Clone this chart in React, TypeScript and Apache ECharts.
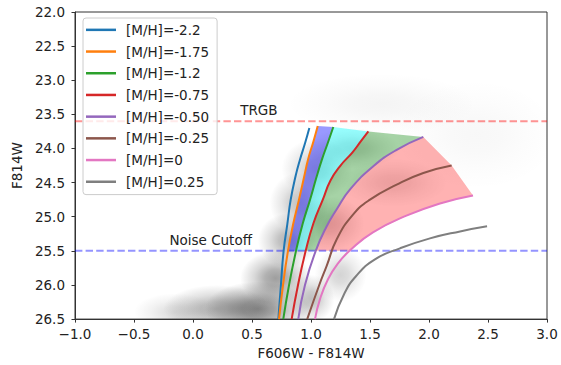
import React, { useEffect, useRef } from 'react';
import * as echarts from 'echarts';

// ---- Isochrones (F606W-F814W colour, F814W magnitude) ----
const seriesNames = ['[M/H]=-2.2', '[M/H]=-1.75', '[M/H]=-1.2', '[M/H]=-0.75', '[M/H]=-0.50', '[M/H]=-0.25', '[M/H]=0', '[M/H]=0.25'];
const lineColors = ['#1f77b4', '#ff7f0e', '#2ca02c', '#d62728', '#9467bd', '#8c564b', '#e377c2', '#7f7f7f'];

const isoM22Color = [0.723, 0.745, 0.768, 0.8, 0.828, 0.87, 0.907, 0.95, 0.986];
const isoM22Mag = [26.5, 26.0, 25.5, 25.1, 24.75, 24.4, 24.16, 23.92, 23.7];

const isoM175Color = [0.729, 0.763, 0.805, 0.85, 0.898, 0.94, 0.975, 1.02, 1.057];
const isoM175Mag = [26.5, 26.0, 25.5, 25.1, 24.75, 24.43, 24.16, 23.9, 23.67];

const isoM12Color = [0.765, 0.814, 0.873, 0.93, 0.992, 1.045, 1.093, 1.14, 1.189];
const isoM12Mag = [26.5, 26.0, 25.5, 25.1, 24.75, 24.43, 24.16, 23.93, 23.685];

const isoM075Color = [0.836, 0.89, 0.955, 1.02, 1.1, 1.165, 1.25, 1.35, 1.42, 1.486];
const isoM075Mag = [26.5, 26.0, 25.5, 25.1, 24.75, 24.47, 24.25, 24.06, 23.9, 23.75];

const isoM050Color = [0.892, 0.949, 1.04, 1.13, 1.218, 1.331, 1.528, 1.726, 1.952];
const isoM050Mag = [26.5, 26.0, 25.5, 25.15, 24.89, 24.6, 24.26, 24.02, 23.83];

const isoM025Color = [0.968, 1.07, 1.133, 1.218, 1.356, 1.5, 1.726, 1.952, 2.192];
const isoM025Mag = [26.5, 26.0, 25.72, 25.33, 24.97, 24.75, 24.53, 24.36, 24.25];

const isoP000Color = [1.034, 1.076, 1.144, 1.229, 1.331, 1.525, 1.814, 2.093, 2.373];
const isoP000Mag = [26.5, 26.208, 25.916, 25.682, 25.492, 25.229, 24.981, 24.805, 24.688];

const isoP025Color = [1.195, 1.28, 1.381, 1.542, 1.754, 2.008, 2.263, 2.492];
const isoP025Mag = [26.5, 26.135, 25.872, 25.624, 25.463, 25.317, 25.215, 25.141];

const isoColors = [isoM22Color, isoM175Color, isoM12Color, isoM075Color, isoM050Color, isoM025Color, isoP000Color, isoP025Color];
const isoMags = [isoM22Mag, isoM175Mag, isoM12Mag, isoM075Mag, isoM050Mag, isoM025Mag, isoP000Mag, isoP025Mag];

// ---- Shaded bands between isochrones (left index, right index, middle index or -1, colour) ----
const bandLeft = [1, 2, 3, 4];
const bandRight = [2, 3, 4, 6];
const bandMiddle = [-1, -1, -1, 5];
const bandFill = ['rgba(0,0,255,0.4)', 'rgba(0,255,255,0.4)', 'rgba(0,128,0,0.35)', 'rgba(255,0,0,0.3)'];

// ---- Reference lines ----
const trgbMag = 23.6;
const noiseCutoffMag = 25.5;

// ---- Annotations ----
const noteText = ['TRGB', 'Noise Cutoff'];
const noteX = [0.4, -0.2];
const noteY = [23.5, 25.4];

// ---- Star-density haze (centre colour, centre mag, half-width, half-height, peak opacity) ----
const hazeX = [0.55, 0.7, 0.2, -0.15, 0.8, 0.9, 1.05, 1.35, 1.15, 1.25, 1.7, 1.6, 2.4, 1.0];
const hazeY = [26.35, 25.9, 26.35, 26.4, 25.35, 24.8, 24.3, 24.0, 25.1, 25.85, 24.5, 23.35, 23.8, 26.2];
const hazeRx = [0.45, 0.3, 0.45, 0.35, 0.25, 0.25, 0.3, 0.4, 0.3, 0.22, 0.45, 0.8, 0.7, 0.2];
const hazeRy = [0.4, 0.4, 0.35, 0.28, 0.4, 0.45, 0.45, 0.3, 0.4, 0.4, 0.35, 0.45, 0.8, 0.35];
const hazeAlpha = [0.55, 0.45, 0.35, 0.15, 0.35, 0.28, 0.25, 0.2, 0.22, 0.2, 0.13, 0.05, 0.035, 0.3];

// ---- Axis ticks ----
const xMin = -1, xMax = 3, xStep = 0.5;
const yMin = 22, yMax = 26.5, yStep = 0.5;

const FONT = 'DejaVu Sans';

function abovePart(cs: number[], ms: number[], cut: number): number[][] {
  const pts: number[][] = [];
  for (let i = 0; i < ms.length; i++) {
    if (ms[i] < cut) {
      if (pts.length === 0 && i > 0) {
        const t = (ms[i - 1] - cut) / (ms[i - 1] - ms[i]);
        pts.push([cs[i - 1] + t * (cs[i] - cs[i - 1]), cut]);
      }
      pts.push([cs[i], ms[i]]);
    } else if (ms[i] === cut) {
      pts.push([cs[i], ms[i]]);
    }
  }
  return pts;
}

function buildBands(): number[][][] {
  const polys: number[][][] = [];
  for (let b = 0; b < bandLeft.length; b++) {
    const L = abovePart(isoColors[bandLeft[b]], isoMags[bandLeft[b]], noiseCutoffMag);
    const R = abovePart(isoColors[bandRight[b]], isoMags[bandRight[b]], noiseCutoffMag).reverse();
    const mid: number[][] = [];
    if (bandMiddle[b] >= 0) {
      const c = isoColors[bandMiddle[b]], m = isoMags[bandMiddle[b]];
      mid.push([c[c.length - 1], m[m.length - 1]]);
    }
    polys.push(L.concat(mid, R));
  }
  return polys;
}

export default function App() {
  const ref = useRef<HTMLDivElement>(null);

  useEffect(() => {
    document.body.style.margin = '0';
    if (!ref.current) return;
    const chart = echarts.init(ref.current, undefined, { renderer: 'svg' });
    const bands = buildBands();

    const fmt = (v: number) => (v < 0 ? '\u2212' : '') + Math.abs(v).toFixed(1);

    const series: any[] = [];

    series.push({
      type: 'custom',
      name: 'haze',
      clip: true,
      silent: true,
      z: 1,
      data: hazeX.map((x, i) => [x, hazeY[i], i]),
      renderItem: (params: any, api: any) => {
        const i = api.value(2);
        const c = api.coord([hazeX[i], hazeY[i]]);
        const sx = Math.abs(api.size([hazeRx[i], 0])[0]);
        const sy = Math.abs(api.size([0, hazeRy[i]])[1]);
        const a = hazeAlpha[i];
        return {
          type: 'circle',
          x: c[0],
          y: c[1],
          scaleX: sx / 50,
          scaleY: sy / 50,
          shape: { cx: 0, cy: 0, r: 50 },
          style: {
            fill: {
              type: 'radial', x: 0.5, y: 0.5, r: 0.5,
              colorStops: [
                { offset: 0, color: `rgba(40,40,40,${a})` },
                { offset: 0.3, color: `rgba(40,40,40,${a * 0.8})` },
                { offset: 0.6, color: `rgba(40,40,40,${a * 0.4})` },
                { offset: 1, color: 'rgba(40,40,40,0)' },
              ],
            },
          },
        };
      },
    });

    series.push({
      type: 'custom',
      name: 'bands',
      clip: true,
      silent: true,
      z: 2,
      data: bands.map((p, i) => [p[0][0], p[0][1], i]),
      renderItem: (params: any, api: any) => {
        const i = api.value(2);
        return {
          type: 'polygon',
          shape: { points: bands[i].map((p) => api.coord(p)) },
          style: { fill: bandFill[i], stroke: 'none' },
        };
      },
    });

    series.push({
      type: 'line',
      name: 'TRGB line',
      silent: true,
      z: 3,
      symbol: 'none',
      data: [[xMin, trgbMag], [xMax, trgbMag]],
      lineStyle: { color: 'rgba(255,0,0,0.42)', width: 2, type: [7.4, 3.2] },
    });
    series.push({
      type: 'line',
      name: 'Noise line',
      silent: true,
      z: 3,
      symbol: 'none',
      data: [[xMin, noiseCutoffMag], [xMax, noiseCutoffMag]],
      lineStyle: { color: 'rgba(0,0,255,0.42)', width: 2, type: [7.4, 3.2] },
    });

    seriesNames.forEach((name, k) => {
      series.push({
        type: 'line',
        name,
        z: 4,
        symbol: 'none',
        smooth: 0.5,
        color: lineColors[k],
        lineStyle: { color: lineColors[k], width: 2 },
        data: isoColors[k].map((c, j) => [c, isoMags[k][j]]),
      });
    });

    series.push({
      type: 'custom',
      name: 'notes',
      silent: true,
      z: 5,
      data: noteX.map((x, i) => [x, noteY[i], i]),
      renderItem: (params: any, api: any) => {
        const i = api.value(2);
        const c = api.coord([noteX[i], noteY[i]]);
        return {
          type: 'text',
          x: c[0],
          y: c[1] + 3,
          style: {
            text: noteText[i],
            fill: '#222',
            fontSize: 13.5,
            fontFamily: FONT,
            align: 'left',
            verticalAlign: 'bottom',
          },
        };
      },
    });

    chart.setOption({
      animation: false,
      backgroundColor: '#ffffff',
      textStyle: { fontFamily: FONT },
      grid: { left: 75, right: 14, top: 12, bottom: 45, show: true, borderColor: '#333', borderWidth: 1, backgroundColor: 'transparent' },
      legend: {
        data: seriesNames,
        orient: 'vertical',
        left: 83,
        top: 18,
        padding: [1, 8, 2, 3],
        itemGap: 0,
        itemWidth: 30,
        itemHeight: 2.5,
        icon: 'rect',
        backgroundColor: 'rgba(255,255,255,0.8)',
        borderColor: '#cccccc',
        borderWidth: 1,
        borderRadius: 3,
        selectedMode: false,
        textStyle: { fontSize: 13.5, fontFamily: FONT, color: '#222', lineHeight: 21.7, padding: [0, 0, 0, 5] },
      },
      xAxis: {
        type: 'value',
        min: xMin,
        max: xMax,
        interval: xStep,
        name: 'F606W - F814W',
        nameLocation: 'middle',
        nameGap: 25,
        nameTextStyle: { fontSize: 13.5, color: '#222', fontFamily: FONT },
        axisLine: { show: true, onZero: false, lineStyle: { color: '#333', width: 1 } },
        axisTick: { show: true, length: 3.5, lineStyle: { color: '#333' } },
        axisLabel: { formatter: fmt, fontSize: 13.5, color: '#222', margin: 8, fontFamily: FONT },
        splitLine: { show: false },
      },
      yAxis: {
        type: 'value',
        min: yMin,
        max: yMax,
        interval: yStep,
        inverse: true,
        name: 'F814W',
        nameLocation: 'middle',
        nameGap: 50,
        nameTextStyle: { fontSize: 13.5, color: '#222', fontFamily: FONT },
        axisLine: { show: true, onZero: false, lineStyle: { color: '#333', width: 1 } },
        axisTick: { show: true, length: 3.5, lineStyle: { color: '#333' } },
        axisLabel: { formatter: (v: number) => v.toFixed(1), fontSize: 13.5, color: '#222', margin: 10, fontFamily: FONT },
        splitLine: { show: false },
      },
      series,
    });

    return () => chart.dispose();
  }, []);

  return <div ref={ref} style={{ width: 561, height: 365 }} />;
}
